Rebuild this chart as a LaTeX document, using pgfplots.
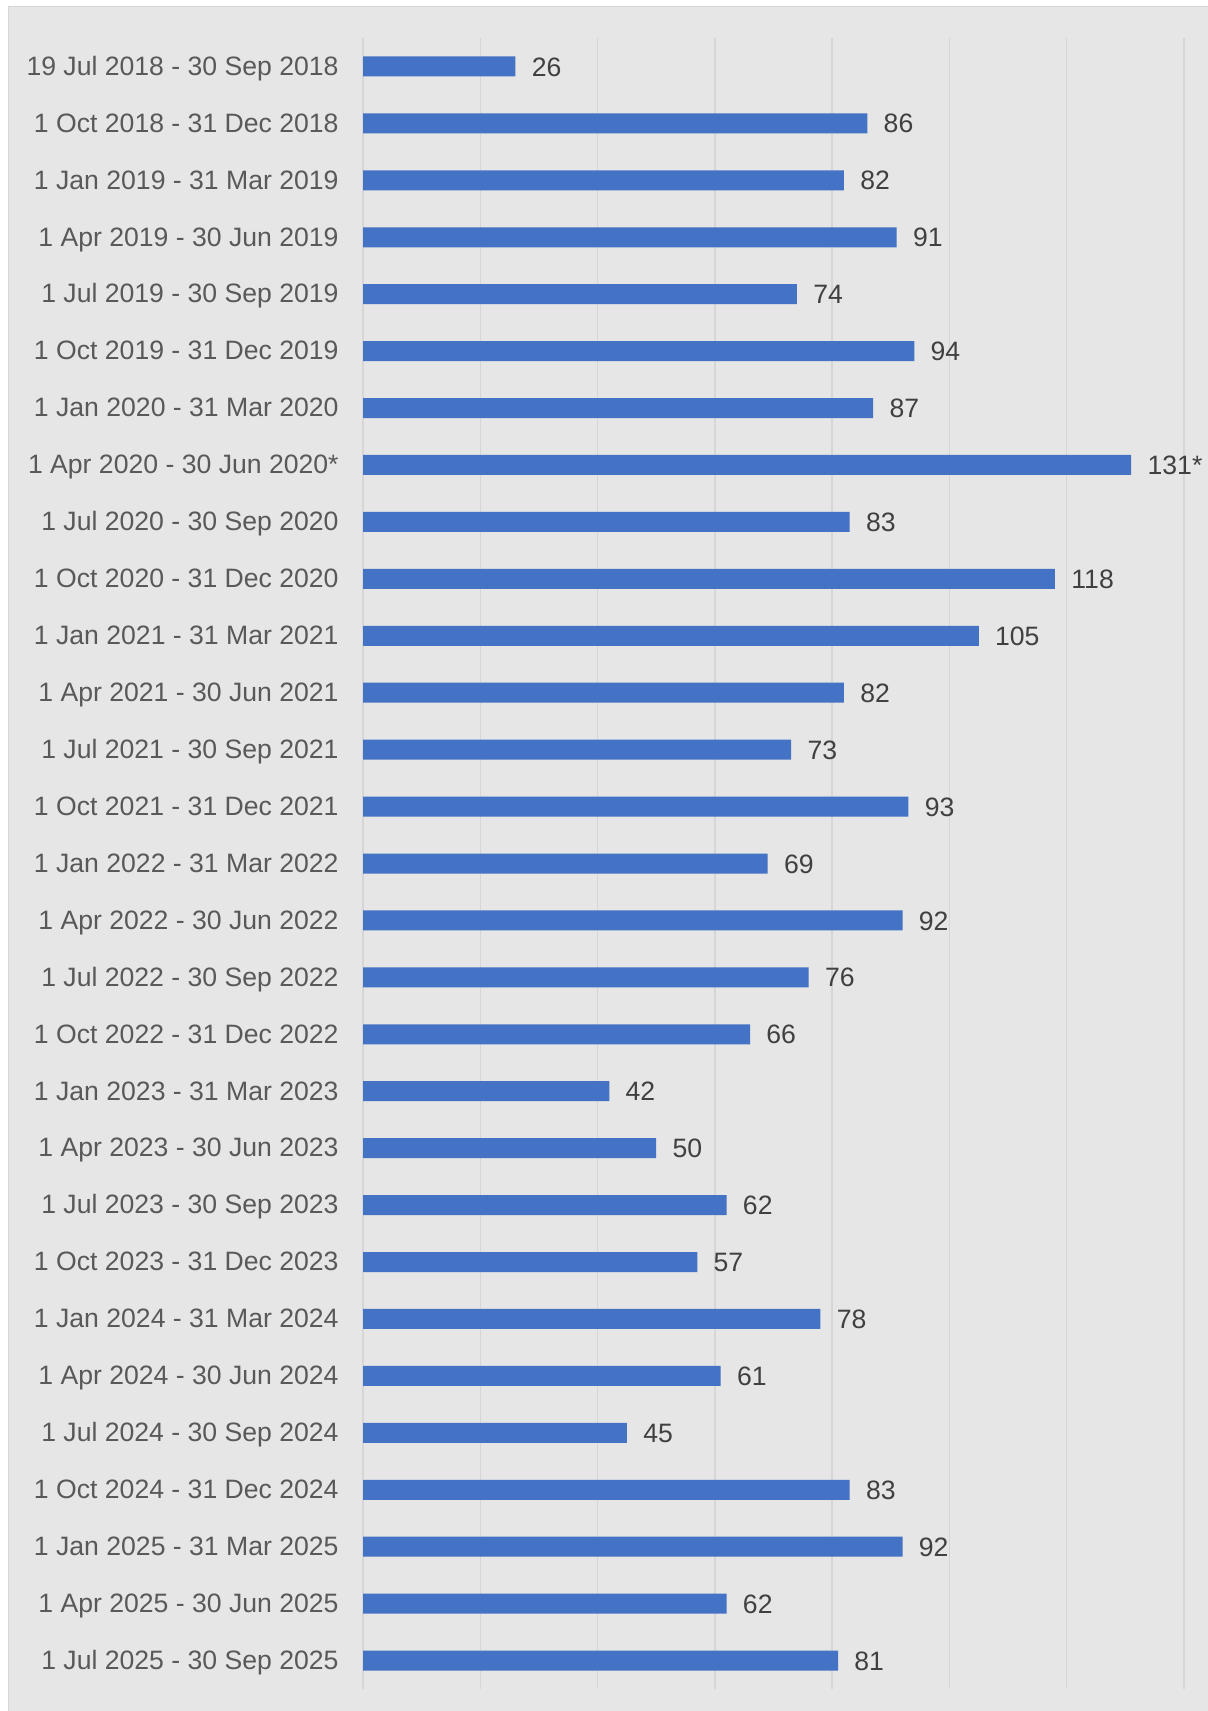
\documentclass[border=0pt]{standalone}
\usepackage{pgfplots}
\pgfplotsset{compat=1.18}
\usepackage{pgfplotstable}
\usepackage{fontspec}
\setmainfont{Liberation Sans}
\definecolor{barblue}{HTML}{4472C4}
\definecolor{panel}{HTML}{E6E6E6}
\definecolor{gridc}{HTML}{D6D6D6}
\definecolor{ticktext}{HTML}{595959}
\definecolor{lbltext}{HTML}{404040}

\pgfplotstableread[col sep=comma]{
idx,value,label
0,26,26
1,86,86
2,82,82
3,91,91
4,74,74
5,94,94
6,87,87
7,131,131*
8,83,83
9,118,118
10,105,105
11,82,82
12,73,73
13,93,93
14,69,69
15,92,92
16,76,76
17,66,66
18,42,42
19,50,50
20,62,62
21,57,57
22,78,78
23,61,61
24,45,45
25,83,83
26,92,92
27,62,62
28,81,81
}\datatable

\begin{document}
\begin{tikzpicture}
\useasboundingbox (0,0) rectangle (604pt,855.5pt);
\fill[panel, draw=gridc, line width=0.5pt] (4pt,-1pt) rectangle (605pt,852pt);
\begin{axis}[
  at={(181.5pt,11pt)}, anchor=south west, scale only axis,
  width=410.5pt, height=825.5pt,
  xbar, bar width=10pt, bar shift=0pt,
  xmin=0, xmax=140, ymin=-0.5, ymax=28.5, y dir=reverse,
  xtick={0,20,...,140}, xticklabels={},
  xmajorgrids, grid style={gridc, line width=0.75pt},
  ytick={0,...,28},
  yticklabels={
    19 Jul 2018 - 30 Sep 2018,
    1 Oct 2018 - 31 Dec 2018,
    1 Jan 2019 - 31 Mar 2019,
    1 Apr 2019 - 30 Jun 2019,
    1 Jul 2019 - 30 Sep 2019,
    1 Oct 2019 - 31 Dec 2019,
    1 Jan 2020 - 31 Mar 2020,
    1 Apr 2020 - 30 Jun 2020*,
    1 Jul 2020 - 30 Sep 2020,
    1 Oct 2020 - 31 Dec 2020,
    1 Jan 2021 - 31 Mar 2021,
    1 Apr 2021 - 30 Jun 2021,
    1 Jul 2021 - 30 Sep 2021,
    1 Oct 2021 - 31 Dec 2021,
    1 Jan 2022 - 31 Mar 2022,
    1 Apr 2022 - 30 Jun 2022,
    1 Jul 2022 - 30 Sep 2022,
    1 Oct 2022 - 31 Dec 2022,
    1 Jan 2023 - 31 Mar 2023,
    1 Apr 2023 - 30 Jun 2023,
    1 Jul 2023 - 30 Sep 2023,
    1 Oct 2023 - 31 Dec 2023,
    1 Jan 2024 - 31 Mar 2024,
    1 Apr 2024 - 30 Jun 2024,
    1 Jul 2024 - 30 Sep 2024,
    1 Oct 2024 - 31 Dec 2024,
    1 Jan 2025 - 31 Mar 2025,
    1 Apr 2025 - 30 Jun 2025,
    1 Jul 2025 - 30 Sep 2025},
  major tick length=0pt,
  axis line style={draw=none},
  yticklabel style={font=\fontsize{13.3}{16}\selectfont, text=ticktext, anchor=east, inner sep=0pt, text height=0.72em, text depth=0pt, xshift=-12pt, yshift=-0.8pt},
  nodes near coords, point meta=explicit symbolic,
  nodes near coords style={font=\fontsize{13.3}{16}\selectfont, text=lbltext, anchor=west, inner sep=0pt, text height=0.72em, text depth=0pt, xshift=8pt, yshift=-1.2pt},
  clip=false,
]
\addplot[fill=barblue, draw=none] table[x=value, y=idx, meta=label]{\datatable};
\end{axis}
\end{tikzpicture}
\end{document}
